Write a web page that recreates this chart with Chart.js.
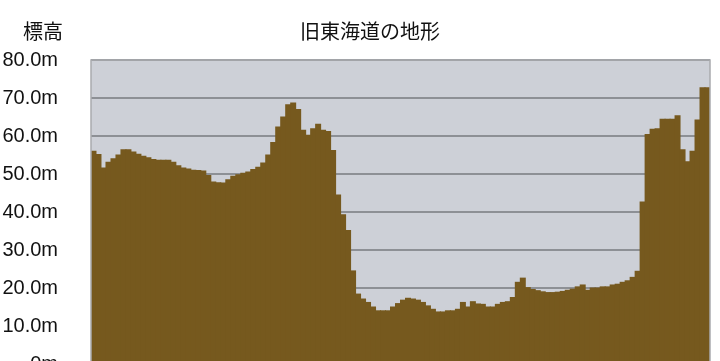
<!DOCTYPE html>
<html>
<head>
<meta charset="utf-8">
<script src="https://cdn.jsdelivr.net/npm/chart.js@4"></script>
<style>
  html, body { margin: 0; padding: 0; background: #fff; overflow: hidden; }
  #wrap { width: 720px; height: 409px; position: relative; }
</style>
</head>
<body>
<div id="wrap"><canvas id="myChart"></canvas></div>
<script>
// elevation profile along the old Tokaido, one value per step
const elevation = [
  56.0, 55.1, 51.6, 53.1, 54.0, 55.0, 56.4, 56.4, 55.8, 55.2,
  54.7, 54.3, 53.8, 53.6, 53.6, 53.6, 53.1, 52.2, 51.6, 51.3,
  51.0, 50.9, 50.8, 49.6, 47.9, 47.7, 47.6, 48.5, 49.4, 49.8,
  50.2, 50.5, 51.2, 51.8, 52.9, 55.0, 58.3, 62.4, 65.0, 68.2,
  68.7, 67.0, 61.5, 60.2, 61.9, 63.1, 61.5, 61.2, 56.2, 44.5,
  39.3, 35.1, 24.5, 18.4, 17.1, 16.2, 15.0, 14.0, 14.0, 14.0,
  15.0, 15.9, 16.8, 17.3, 17.1, 16.8, 16.2, 15.3, 14.4, 13.7,
  13.7, 14.0, 14.0, 14.4, 16.2, 15.0, 16.4, 15.8, 15.7, 15.0,
  15.0, 15.7, 16.2, 16.4, 17.5, 21.5, 22.6, 20.1, 19.6, 19.3,
  19.0, 18.8, 18.8, 18.9, 19.1, 19.4, 19.7, 20.3, 20.8, 19.4,
  20.0, 20.0, 20.3, 20.3, 20.8, 21.0, 21.5, 21.9, 22.8, 24.4,
  42.6, 60.4, 61.8, 61.9, 64.4, 64.4, 64.4, 65.3, 56.4, 53.2,
  56.0, 64.2, 72.7, 72.7
];
const points = elevation.map((v, i) => String(i + 1));
const yTickValues = [0, 10, 20, 30, 40, 50, 60, 70, 80];
const yTickLabels = ["0m", "10.0m", "20.0m", "30.0m", "40.0m", "50.0m", "60.0m", "70.0m", "80.0m"];
const chartTitle = "旧東海道の地形";
const yTitle = "標高";

const FONT = 'Liberation Sans, Arial, "Noto Sans CJK JP", sans-serif';
const CJK = '"Noto Sans CJK JP", Liberation Sans, sans-serif';

const frame = {
  id: "frame",
  beforeDraw(chart) {
    const { ctx, chartArea: a } = chart;
    ctx.save();
    ctx.fillStyle = "#cdd0d7";
    ctx.fillRect(a.left, a.top, a.right - a.left, a.bottom - a.top);
    ctx.restore();
  },
  afterDraw(chart) {
    const { ctx, chartArea: a } = chart;
    ctx.save();
    ctx.strokeStyle = "#a9abaf";
    ctx.lineWidth = 1.5;
    ctx.beginPath();
    ctx.moveTo(a.left, a.bottom);
    ctx.lineTo(a.left, a.top);
    ctx.lineTo(a.right, a.top);
    ctx.lineTo(a.right, a.bottom);
    ctx.stroke();
    ctx.fillStyle = "#111";
    ctx.textBaseline = "middle";
    ctx.textAlign = "center";
    ctx.font = "20px " + CJK;
    ctx.fillText(chartTitle, 370, 31);
    ctx.fillText(yTitle, 43, 31);
    ctx.restore();
  }
};

new Chart(document.getElementById("myChart"), {
  type: "bar",
  data: {
    labels: points,
    datasets: [{
      data: elevation,
      backgroundColor: "#76591e",
      borderWidth: 0,
      barPercentage: 1,
      categoryPercentage: 1,
      inflateAmount: 0.5
    }]
  },
  options: {
    responsive: true,
    maintainAspectRatio: false,
    animation: false,
    layout: { padding: { left: 0, right: 10, top: 60, bottom: 0 } },
    plugins: { legend: { display: false }, tooltip: { enabled: false } },
    scales: {
      x: { display: false },
      y: {
        min: 0,
        max: 80,
        afterBuildTicks: (s) => { s.ticks = yTickValues.map((v) => ({ value: v })); },
        afterFit: (s) => { s.width = 91; },
        border: { display: false },
        grid: { color: "#8d9095", lineWidth: 2, drawTicks: false },
        ticks: {
          padding: 33,
          color: "#111",
          font: { family: FONT, size: 20 },
          callback: (v) => yTickLabels[yTickValues.indexOf(v)]
        }
      }
    }
  },
  plugins: [frame]
});
</script>
</body>
</html>
